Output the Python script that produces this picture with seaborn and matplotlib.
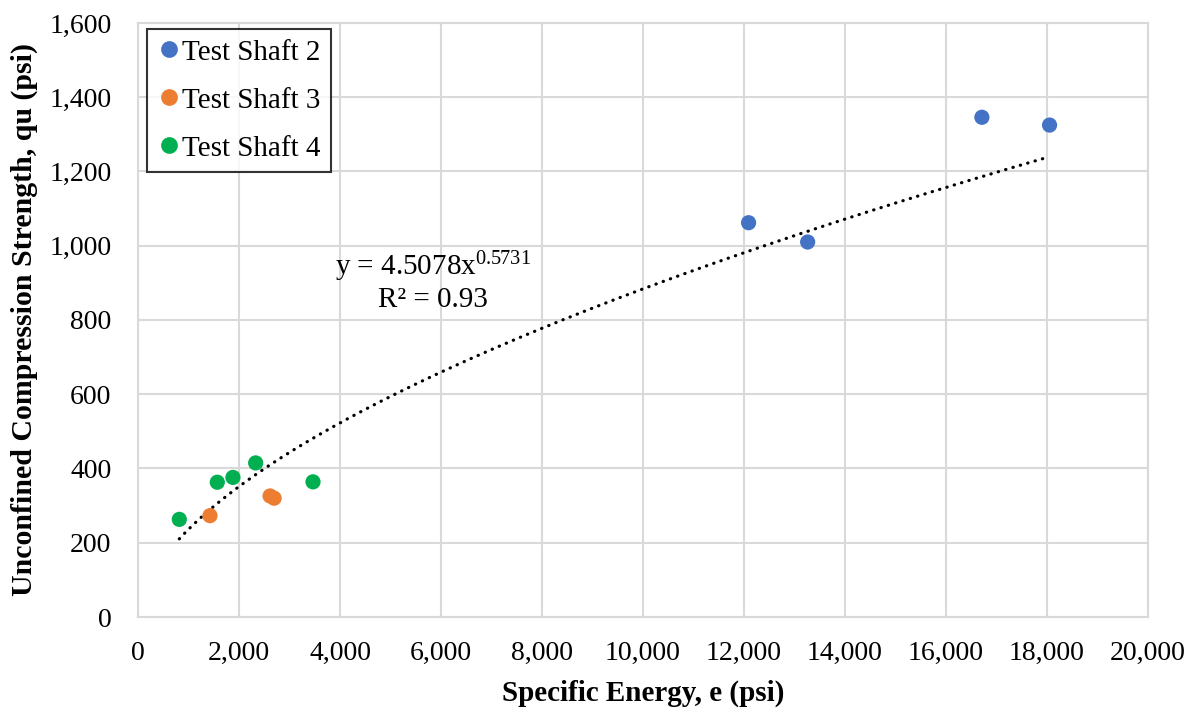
import numpy as np
import pandas as pd
import matplotlib
matplotlib.use("Agg")
import matplotlib.pyplot as plt
import seaborn as sns

# ---- data ----
shaft2_e = [12090, 13260, 16710, 18050]
shaft2_qu = [1062, 1010, 1346, 1325]
shaft3_e = [1425, 2615, 2695]
shaft3_qu = [273, 326, 320]
shaft4_e = [818, 1570, 1880, 2330, 3465]
shaft4_qu = [263, 363, 376, 415, 364]
series_names = ["Test Shaft 2", "Test Shaft 3", "Test Shaft 4"]
colors = ["#4472C4", "#ED7D31", "#00B050"]
fit_a = 4.5078
fit_b = 0.5731
fit_r2 = 0.93
x_ticks = list(range(0, 20001, 2000))
y_ticks = list(range(0, 1601, 200))

df = pd.DataFrame({
    "e": shaft2_e + shaft3_e + shaft4_e,
    "qu": shaft2_qu + shaft3_qu + shaft4_qu,
    "series": [series_names[0]] * len(shaft2_e)
              + [series_names[1]] * len(shaft3_e)
              + [series_names[2]] * len(shaft4_e),
})

sns.set_theme(style="white")
plt.rcParams["font.family"] = ["Liberation Serif", "DejaVu Serif"]
plt.rcParams["mathtext.fontset"] = "custom"
plt.rcParams["mathtext.rm"] = "Liberation Serif"
plt.rcParams["mathtext.it"] = "Liberation Serif"
plt.rcParams["text.color"] = "black"
plt.rcParams["axes.labelcolor"] = "black"
plt.rcParams["xtick.color"] = "black"
plt.rcParams["ytick.color"] = "black"

fig = plt.figure(figsize=(11.99, 7.11), dpi=100)
ax = fig.add_axes([0.1151, 0.1322, 0.9575 - 0.1151, 0.9677 - 0.1322])

grid_c = "#D9D9D9"
ax.set_axisbelow(True)
ax.grid(True, color=grid_c, linewidth=1.5)

# trendline (power fit from the stated equation) over data range
x_all = np.array(df["e"], dtype=float)
xf = np.linspace(x_all.min(), x_all.max(), 300)
yf = fit_a * xf ** fit_b
ax.plot(xf, yf, color="black", linewidth=2.3, linestyle=(0, (0.1, 2.3)),
        dash_capstyle="round", zorder=2)

sns.scatterplot(data=df, x="e", y="qu", hue="series", palette=colors,
                hue_order=series_names, s=120, edgecolor="none", ax=ax, zorder=3)

ax.set_xlim(0, 20000)
ax.set_ylim(0, 1600)
ax.set_xticks(x_ticks)
ax.set_yticks(y_ticks)
ax.set_xticklabels([f"{v:,}" for v in x_ticks])
ax.set_yticklabels([f"{v:,}" for v in y_ticks])
ax.tick_params(axis="both", length=0, labelsize=20, colors="black")
ax.tick_params(axis="x", pad=17)
ax.tick_params(axis="y", pad=19)
for sp in ax.spines.values():
    sp.set_color(grid_c)
    sp.set_linewidth(1.5)

ax.set_xlabel("Specific Energy, e (psi)", fontsize=21, fontweight="bold", labelpad=10)
ax.set_ylabel("Unconfined Compression Strength, qu (psi)", fontsize=21.5,
              fontweight="bold", labelpad=8)

ax.text(5842, 943, r"y = 4.5078x$^{0.5731}$", fontsize=21, ha="center", va="center")
ax.text(5842, 854, f"R² = {fit_r2}", fontsize=21, ha="center", va="center")

leg = ax.legend(loc="upper left", bbox_to_anchor=(0.0089, 0.9899), fontsize=21,
                frameon=True, fancybox=False, borderpad=0.35, handletextpad=0.05,
                labelspacing=0.74, handlelength=0.8, borderaxespad=0.0,
                markerscale=1.1)
leg.get_frame().set_edgecolor("black")
leg.get_frame().set_linewidth(1.5)
leg.set_title(None)

fig.savefig("out.png", dpi=100)
